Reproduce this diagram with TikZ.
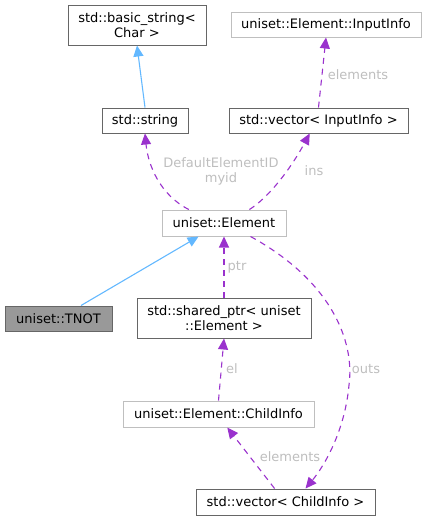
\documentclass[tikz,border=0pt]{standalone}
\usepackage{fontspec}
\setmainfont{DejaVu Sans}
\usepackage{tikz}
\usetikzlibrary{arrows.meta}
\definecolor{edgedark}{HTML}{666666}
\definecolor{edgelight}{HTML}{BFBFBF}
\definecolor{lblgray}{HTML}{BEBEBE}
\definecolor{usepurple}{HTML}{9A32CD}
\definecolor{inhblue}{HTML}{63B8FF}
\definecolor{tnotfill}{HTML}{999999}
\begin{document}
\begin{tikzpicture}[x=1pt,y=-1pt,
    cls/.style={draw=edgedark,line width=1pt,fill=white,inner sep=0pt,align=center,
        font=\fontsize{13}{15}\selectfont},
    clsl/.style={cls,draw=edgelight},
    lbl/.style={text=lblgray,inner sep=0pt,align=center,font=\fontsize{13}{15}\selectfont},
    uses/.style={draw=usepurple,line width=1.1pt,dash pattern=on 6pt off 5pt,
        -{Triangle[length=11pt,width=10pt,fill=usepurple]}},
    inh/.style={draw=inhblue,line width=1.1pt,-{Triangle[length=11pt,width=10pt,fill=inhblue]}}]
    \useasboundingbox (0,0) rectangle (427,520);
    \node[cls,minimum width=138,minimum height=40] (bstr) at (137,25) {std::basic\_string<\\Char >};
    \node[clsl,minimum width=190,minimum height=25] (iinfo) at (326,24.5) {uniset::Element::InputInfo};
    \node[cls,minimum width=86,minimum height=25] (str) at (145,120.5) {std::string};
    \node[cls,minimum width=179,minimum height=25] (vin) at (318.5,120.5) {std::vector< InputInfo >};
    \node[clsl,minimum width=124,minimum height=26] (elem) at (224,223) {uniset::Element};
    \node[cls,fill=tnotfill,minimum width=107,minimum height=25] (tnot) at (58.5,318.5) {uniset::TNOT};
    \node[cls,minimum width=174,minimum height=40] (sptr) at (224,318) {std::shared\_ptr< uniset\\::Element >};
    \node[clsl,minimum width=191,minimum height=26] (cinfo) at (218.5,414) {uniset::Element::ChildInfo};
    \node[cls,minimum width=179,minimum height=26] (vci) at (285.5,502) {std::vector< ChildInfo >};

    \draw[inh] (str.north) -- (bstr.south);
    \draw[inh] (tnot.30) -- (elem.208);
    \draw[uses] (vin.north) -- (iinfo.south);
    \draw[uses] (elem.159) .. controls (160,195) and (148,165) .. (str.south);
    \draw[uses] (elem.28) .. controls (268,198) and (290,170) .. (vin.236);
    \draw[uses] (sptr.north) -- (elem.south);
    \draw[uses] (cinfo.north) -- (sptr.south);
    \draw[uses] (vci.129) -- (cinfo.-57);
    \draw[uses] (elem.-27) .. controls (330,280) and (355,340) .. (349,385)
        .. controls (345,430) and (325,465) .. (vci.34);

    \node[lbl] (lelin) at (358,75) {elements};
    \node[lbl] (lmyid) at (221,171) {DefaultElementID\\myid};
    \node[lbl] (lins) at (314,171) {ins};
    \node[lbl] (lptr) at (237,267) {ptr};
    \node[lbl] (lel) at (232,369) {el};
    \node[lbl] (louts) at (366,369) {outs};
    \node[lbl] (lelch) at (290,457) {elements};
\end{tikzpicture}
\end{document}
